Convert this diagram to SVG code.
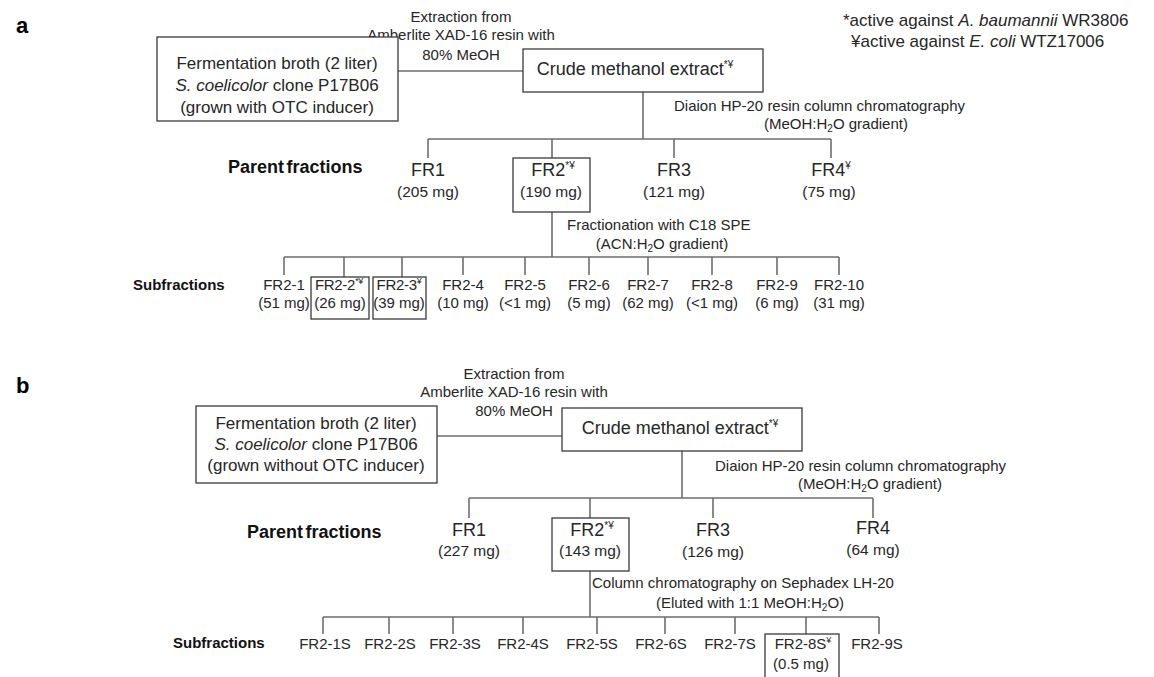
<svg xmlns="http://www.w3.org/2000/svg" width="1154" height="677" viewBox="0 0 1154 677">
<style>
text{font-family:"Liberation Sans",Arial,sans-serif;fill:#262626}
.n{font-size:15px}
.f17{font-size:17px}
.fr{font-size:18px}
.mg{font-size:15.5px}
.s{font-size:15px}
.pl{font-weight:bold;fill:#000;font-size:22px}
.hd{font-weight:bold;fill:#111;font-size:18px;word-spacing:-2.5px}
.hs{font-weight:bold;fill:#111;font-size:15px}
.m{text-anchor:middle}
.sp{font-size:10px}
.ss{font-size:9px}
.box{fill:#fff;stroke:#3a3a3a;stroke-width:1.3}
.ln{fill:none;stroke:#6e6e6e;stroke-width:1.6}
</style>
<rect width="1154" height="677" fill="#fff"/>

<g id="connectors">
  <!-- panel a -->
  <path class="ln" d="M398 71H523"/>
  <path class="ln" d="M643 92V139M428 139H831M428 139V158M552 139V158M674 139V158M831 139V158"/>
  <path class="ln" d="M552 212V257M284 257H839M284 257V275M344 257V277M402 257V277M463 257V275M525 257V275M589 257V275M648 257V275M712 257V275M777 257V275M839 257V275"/>
  <!-- panel b -->
  <path class="ln" d="M437 436H562"/>
  <path class="ln" d="M682 451V498M469 498H873M469 498V518M590 498V518M713 498V518M873 498V518"/>
  <path class="ln" d="M590 571V617M323 617H879M323 617V634M389 617V634M453 617V634M523 617V634M597 617V634M665 617V634M735 617V634M806 617V634M879 617V634"/>
</g>

<!-- panel labels and legend -->
<text class="pl" x="16" y="33">a</text>
<text class="pl" x="16" y="393">b</text>
<g id="legend">
  <text class="f17" x="843" y="26">*active against <tspan font-style="italic">A. baumannii</tspan> WR3806</text>
  <text class="f17" x="851" y="47">¥active against <tspan font-style="italic">E. coli</tspan> WTZ17006</text>
</g>

<!-- ===== Panel a ===== -->
<g id="a-extraction-label">
  <text class="n m" x="461" y="22">Extraction from</text>
  <text class="n m" x="461" y="40">Amberlite XAD-16 resin with</text>
  <text class="n m" x="461" y="60">80% MeOH</text>
</g>
<g id="a-broth">
  <rect class="box" x="157" y="37" width="241" height="84"/>
  <text class="f17 m" x="277" y="69">Fermentation broth (2 liter)</text>
  <text class="f17 m" x="277" y="91"><tspan font-style="italic">S. coelicolor</tspan> clone P17B06</text>
  <text class="f17 m" x="277" y="113">(grown with OTC inducer)</text>
</g>
<g id="a-crude">
  <rect class="box" x="523" y="49" width="240" height="43"/>
  <text class="fr m" x="635" y="75">Crude methanol extract<tspan class="sp" dy="-7">*¥</tspan></text>
</g>
<g id="a-diaion-label">
  <text class="n" x="674" y="111">Diaion HP-20 resin column chromatography</text>
  <text class="n m" x="836" y="129">(MeOH:H<tspan font-size="10" dy="3">2</tspan><tspan dy="-3">O gradient)</tspan></text>
</g>
<text class="hd" x="228" y="173">Parent fractions</text>
<g id="a-FR1"><text class="fr m" x="428" y="176">FR1</text><text class="mg m" x="428" y="197">(205 mg)</text></g>
<g id="a-FR2">
  <rect class="box" x="513" y="158" width="77" height="54"/>
  <text class="fr m" x="553" y="176">FR2<tspan class="sp" dy="-7">*¥</tspan></text>
  <text class="mg m" x="551" y="197">(190 mg)</text>
</g>
<g id="a-FR3"><text class="fr m" x="674" y="176">FR3</text><text class="mg m" x="674" y="197">(121 mg)</text></g>
<g id="a-FR4"><text class="fr m" x="831" y="176">FR4<tspan class="sp" dy="-7">¥</tspan></text><text class="mg m" x="829" y="197">(75 mg)</text></g>
<g id="a-c18-label">
  <text class="n" x="567" y="230">Fractionation with C18 SPE</text>
  <text class="n m" x="662" y="249">(ACN:H<tspan font-size="10" dy="3">2</tspan><tspan dy="-3">O gradient)</tspan></text>
</g>
<text class="hs" x="133" y="290">Subfractions</text>
<g id="a-FR2-1"><text class="s m" x="284" y="290">FR2-1</text><text class="s m" x="284" y="308">(51 mg)</text></g>
<g id="a-FR2-2">
  <rect class="box" x="311" y="277" width="58" height="42"/>
  <text class="s m" x="339" y="290" letter-spacing="-0.3">FR2-2<tspan class="ss" dy="-6">*¥</tspan></text>
  <text class="s m" x="340" y="308">(26 mg)</text>
</g>
<g id="a-FR2-3">
  <rect class="box" x="373" y="277" width="53" height="42"/>
  <text class="s m" x="399" y="290" letter-spacing="-0.3">FR2-3<tspan class="ss" dy="-6">¥</tspan></text>
  <text class="s m" x="399" y="308">(39 mg)</text>
</g>
<g id="a-FR2-4"><text class="s m" x="463" y="290">FR2-4</text><text class="s m" x="463" y="308">(10 mg)</text></g>
<g id="a-FR2-5"><text class="s m" x="525" y="290">FR2-5</text><text class="s m" x="525" y="308">(&lt;1 mg)</text></g>
<g id="a-FR2-6"><text class="s m" x="589" y="290">FR2-6</text><text class="s m" x="589" y="308">(5 mg)</text></g>
<g id="a-FR2-7"><text class="s m" x="648" y="290">FR2-7</text><text class="s m" x="648" y="308">(62 mg)</text></g>
<g id="a-FR2-8"><text class="s m" x="712" y="290">FR2-8</text><text class="s m" x="712" y="308">(&lt;1 mg)</text></g>
<g id="a-FR2-9"><text class="s m" x="777" y="290">FR2-9</text><text class="s m" x="777" y="308">(6 mg)</text></g>
<g id="a-FR2-10"><text class="s m" x="839" y="290">FR2-10</text><text class="s m" x="839" y="308">(31 mg)</text></g>

<!-- ===== Panel b ===== -->
<g id="b-extraction-label">
  <text class="n m" x="514" y="379">Extraction from</text>
  <text class="n m" x="514" y="397">Amberlite XAD-16 resin with</text>
  <text class="n m" x="514" y="416">80% MeOH</text>
</g>
<g id="b-broth">
  <rect class="box" x="196" y="406" width="241" height="77"/>
  <text class="f17 m" x="316" y="429">Fermentation broth (2 liter)</text>
  <text class="f17 m" x="316" y="450"><tspan font-style="italic">S. coelicolor</tspan> clone P17B06</text>
  <text class="f17 m" x="316" y="471">(grown without OTC inducer)</text>
</g>
<g id="b-crude">
  <rect class="box" x="562" y="408" width="240" height="43"/>
  <text class="fr m" x="680" y="434">Crude methanol extract<tspan class="sp" dy="-7">*¥</tspan></text>
</g>
<g id="b-diaion-label">
  <text class="n" x="715" y="471">Diaion HP-20 resin column chromatography</text>
  <text class="n m" x="870" y="489">(MeOH:H<tspan font-size="10" dy="3">2</tspan><tspan dy="-3">O gradient)</tspan></text>
</g>
<text class="hd" x="247" y="538">Parent fractions</text>
<g id="b-FR1"><text class="fr m" x="469" y="536">FR1</text><text class="mg m" x="469" y="556">(227 mg)</text></g>
<g id="b-FR2">
  <rect class="box" x="552" y="518" width="77" height="53"/>
  <text class="fr m" x="592" y="536">FR2<tspan class="sp" dy="-7">*¥</tspan></text>
  <text class="mg m" x="590" y="556">(143 mg)</text>
</g>
<g id="b-FR3"><text class="fr m" x="713" y="536">FR3</text><text class="mg m" x="713" y="557">(126 mg)</text></g>
<g id="b-FR4"><text class="fr m" x="873" y="534">FR4</text><text class="mg m" x="873" y="555">(64 mg)</text></g>
<g id="b-lh20-label">
  <text class="n" x="592" y="588">Column chromatography on Sephadex LH-20</text>
  <text class="n m" x="750" y="608">(Eluted with 1:1 MeOH:H<tspan font-size="10" dy="3">2</tspan><tspan dy="-3">O)</tspan></text>
</g>
<text class="hs" x="173" y="648">Subfractions</text>
<g id="b-FR2-1S"><text class="s m" x="325" y="649">FR2-1S</text></g>
<g id="b-FR2-2S"><text class="s m" x="390" y="649">FR2-2S</text></g>
<g id="b-FR2-3S"><text class="s m" x="455" y="649">FR2-3S</text></g>
<g id="b-FR2-4S"><text class="s m" x="523" y="649">FR2-4S</text></g>
<g id="b-FR2-5S"><text class="s m" x="592" y="649">FR2-5S</text></g>
<g id="b-FR2-6S"><text class="s m" x="661" y="649">FR2-6S</text></g>
<g id="b-FR2-7S"><text class="s m" x="730" y="649">FR2-7S</text></g>
<g id="b-FR2-8S">
  <rect class="box" x="765" y="634" width="74" height="60"/>
  <text class="s m" x="803" y="649">FR2-8S<tspan class="ss" dy="-6">¥</tspan></text>
  <text class="s m" x="801" y="669">(0.5 mg)</text>
</g>
<g id="b-FR2-9S"><text class="s m" x="877" y="649">FR2-9S</text></g>
</svg>
